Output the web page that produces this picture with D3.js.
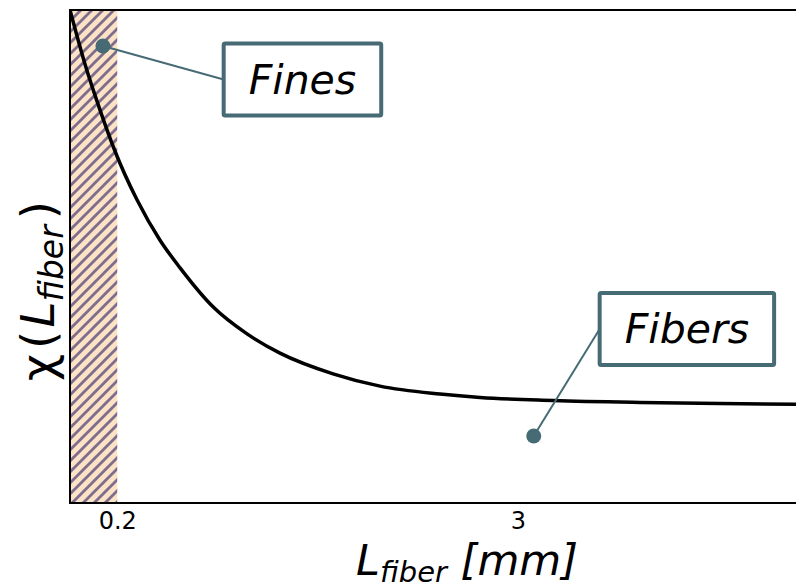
<!DOCTYPE html>
<html>
<head>
<meta charset="utf-8">
<script src="https://cdn.jsdelivr.net/npm/d3@7"></script>
<style>
  body { margin: 0; background: #fff; }
  text { font-family: 'DejaVu Sans', sans-serif; }
</style>
</head>
<body>
<div id="figure-container"></div>
<script>
// curve (x in mm, y in arbitrary units)
var fiberLen = [-0.13, -0.025, 0.08, 0.184, 0.338, 0.499, 0.639, 0.869, 1.107, 1.337, 1.708, 2.036, 2.455, 2.735, 3.245, 3.852, 4.41, 5.11];
var chiVals = [1.0, 0.89, 0.797, 0.714, 0.615, 0.533, 0.477, 0.398, 0.343, 0.304, 0.262, 0.237, 0.221, 0.214, 0.208, 0.204, 0.2016, 0.2002];

var tickVals = [0.2, 3];
var tickLabels = ['0.2', '3'];

var finesCut = 0.2;

// annotation points (data coords) and box centres (data coords)
var annLabels = ['Fines', 'Fibers'];
var annPointX = [0.10, 3.11];
var annPointY = [0.927, 0.136];
var annBoxX = [1.494, 4.18];
var annBoxY = [0.859, 0.353];

var margin = {top: 10, right: 0, bottom: 85, left: 70};
var fullWidth = 796;
var fullHeight = 588;
var width = 750;   // runs past the right edge of the window
var height = fullHeight - margin.top - margin.bottom;

var xScale = d3.scaleLinear()
  .domain([-0.13, 5.11])
  .range([0, width]);

var yScale = d3.scaleLinear()
  .domain([0, 1])
  .range([height, 0]);

var svg = d3.select('#figure-container')
  .append('svg')
  .attr('width', fullWidth)
  .attr('height', fullHeight)
  .append('g')
  .attr('transform', `translate(${margin.left},${margin.top})`);

var defs = svg.append('defs');

defs.append('clipPath')
  .attr('id', 'clip')
  .append('rect')
  .attr('width', width)
  .attr('height', height);

// "///" hatch
var hp = 11;
var pat = defs.append('pattern')
  .attr('id', 'hatch')
  .attr('patternUnits', 'userSpaceOnUse')
  .attr('width', hp)
  .attr('height', hp);
pat.append('rect')
  .attr('width', hp)
  .attr('height', hp)
  .attr('fill', '#fce3c6');
pat.append('path')
  .attr('d', `M-2,2 L2,-2 M0,${hp} L${hp},0 M${hp - 2},${hp + 2} L${hp + 2},${hp - 2}`)
  .attr('stroke', '#7e6d8d')
  .attr('stroke-width', 2.8);

var area = svg.append('g')
  .attr('clip-path', 'url(#clip)');

area.append('rect')
  .attr('x', xScale(xScale.domain()[0]))
  .attr('y', 0)
  .attr('width', xScale(finesCut) - xScale(xScale.domain()[0]))
  .attr('height', height)
  .attr('fill', 'url(#hatch)');

var pts = fiberLen.map(function(d, i) { return [d, chiVals[i]]; });

var line = d3.line()
  .x(function(d) { return xScale(d[0]); })
  .y(function(d) { return yScale(d[1]); })
  .curve(d3.curveMonotoneX);

area.append('path')
  .datum(pts)
  .attr('d', line)
  .attr('fill', 'none')
  .attr('stroke', '#000')
  .attr('stroke-width', 3.5);

// axes frame (no right spine visible)
svg.append('path')
  .attr('d', `M${width},0 H0 V${height} H${width}`)
  .attr('fill', 'none')
  .attr('stroke', '#000')
  .attr('stroke-width', 2);

// x tick labels only
var xAxis = d3.axisBottom(xScale)
  .tickValues(tickVals)
  .tickSize(0)
  .tickPadding(9)
  .tickFormat(function(d, i) { return tickLabels[i]; });

var gx = svg.append('g')
  .attr('transform', `translate(0,${height})`)
  .call(xAxis);
gx.select('.domain').remove();
gx.selectAll('text')
  .attr('fill', '#000')
  .style('font-size', '24px');

// axis labels
var xl = svg.append('text')
  .attr('x', 397)
  .attr('y', 565)
  .attr('text-anchor', 'middle')
  .style('font-size', '43px')
  .style('font-style', 'italic');
xl.append('tspan').text('L');
xl.append('tspan').attr('dy', 7).style('font-size', '29px').text('fiber');
xl.append('tspan').attr('dy', -7).text(' [mm]');

var yl = svg.append('text')
  .attr('transform', `translate(-16,${291 - margin.top}) rotate(-90)`)
  .attr('text-anchor', 'middle')
  .style('font-size', '47px');
yl.append('tspan').text('χ');
yl.append('tspan').attr('dx', 5).text('(');
yl.append('tspan').attr('dx', 3).style('font-style', 'italic').text('L');
yl.append('tspan').attr('dy', 9).style('font-size', '33px').style('font-style', 'italic').text('fiber');
yl.append('tspan').attr('dy', -9).attr('dx', 6).text(')');

// annotations
var annColor = '#466b75';
var ann = svg.append('g');

annLabels.forEach(function(lab, i) {
  var bx = xScale(annBoxX[i]);
  var by = yScale(annBoxY[i]);
  var t = ann.append('text')
    .attr('x', bx)
    .attr('y', by)
    .attr('text-anchor', 'middle')
    .attr('dominant-baseline', 'central')
    .style('font-size', '41px')
    .style('font-style', 'italic')
    .attr('fill', '#000')
    .text(lab);
  var w = t.node().getComputedTextLength();
  var padX = 25;
  var boxW = w + 2 * padX;
  var boxH = 72;
  ann.insert('rect', 'text')
    .attr('x', bx - boxW / 2)
    .attr('y', by - boxH / 2)
    .attr('width', boxW)
    .attr('height', boxH)
    .attr('rx', 1.5)
    .attr('fill', '#fff')
    .attr('stroke', annColor)
    .attr('stroke-width', 4);
  ann.insert('line', 'rect')
    .attr('x1', xScale(annPointX[i]))
    .attr('y1', yScale(annPointY[i]))
    .attr('x2', bx - boxW / 2)
    .attr('y2', by)
    .attr('stroke', annColor)
    .attr('stroke-width', 2);
  ann.append('circle')
    .attr('cx', xScale(annPointX[i]))
    .attr('cy', yScale(annPointY[i]))
    .attr('r', 7.5)
    .attr('fill', annColor);
});
</script>
</body>
</html>
